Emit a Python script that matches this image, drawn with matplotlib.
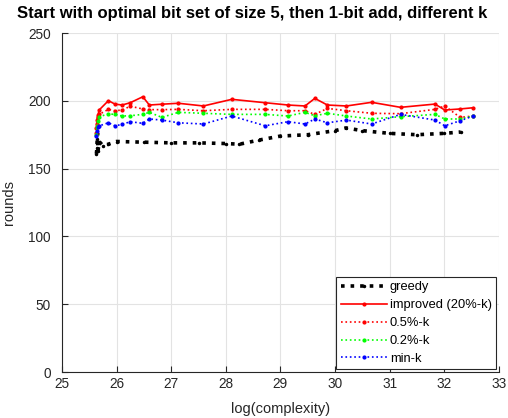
import matplotlib
matplotlib.use("Agg")
import matplotlib.pyplot as plt

plt.rcParams['font.family'] = ['Liberation Sans', 'DejaVu Sans']

# shared sample positions of the k-variant runs
x_runs = [25.63, 25.64, 25.66, 25.68, 25.85, 25.97, 26.10, 26.25, 26.48, 26.60,
          26.83, 27.13, 27.59, 28.11, 28.72, 29.14, 29.45, 29.63, 29.86, 30.21,
          30.67, 31.20, 31.83, 32.01, 32.29, 32.53]

improved = [180, 186, 189.5, 193.2, 200.1, 197.6, 196.9, 198.6, 203, 196.9,
            197.5, 198.2, 196.2, 201.1, 198.6, 196.9, 196.2, 201.8, 196.9, 196.2,
            198.9, 195.2, 197.6, 193.2, 194, 194.9]
k_05 = [176, 183, 188, 190, 193.7, 192.7, 193.2, 196, 194, 193.5,
        193.5, 193.7, 192.7, 193.7, 193.7, 192.7, 192.7, 190, 194.4, 192.7,
        190.8, 190.5, 193.7, 196.2, 187.8, 188.8]
k_02 = [175, 181, 185, 188.3, 190.3, 190, 188.8, 189, 190, 191.5,
        187.8, 191.5, 190.8, 190, 190, 188.8, 191.5, 189, 190.8, 188.8,
        186.6, 188.3, 190, 186.6, 186.6, 188.8]
k_min = [174, 178, 180.9, 181.5, 183.8, 181.6, 182.6, 184.6, 183.4, 186.6,
         185.8, 183.8, 182.9, 188.8, 181.6, 184.6, 182.9, 186.6, 183.8, 185.8,
         182.9, 190, 185.8, 181.6, 185.3, 188.8]

# greedy baseline
x_greedy = [25.63, 25.64, 25.645, 25.65, 25.66, 25.68, 25.75, 25.85, 26.0, 26.5,
            27.0, 27.5, 28.0, 28.25, 28.6, 29.0, 29.5, 30.0, 30.2, 30.5,
            31.0, 31.5, 32.0, 32.3]
greedy = [161, 165, 172, 176, 163, 170, 167, 168, 170, 169.5,
          169, 169, 168.5, 168, 171, 174, 175, 178, 180, 178,
          176, 175, 176, 177]

xticks = [25, 26, 27, 28, 29, 30, 31, 32, 33]
yticks = [0, 50, 100, 150, 200, 250]

fig = plt.figure(figsize=(5.08, 4.18), dpi=100)
ax = fig.add_axes([0.122, 0.110, 0.860, 0.811])

ax.plot(x_greedy, greedy, ':', color='black', lw=2.6, marker='.', ms=3,
        label='greedy')
ax.plot(x_runs, improved, '-', color='#ff0000', lw=1.2, marker='.', ms=4,
        label='improved (20%-k)')
ax.plot(x_runs, k_05, ':', color='#ff0000', lw=1.2, marker='.', ms=4,
        label='0.5%-k')
ax.plot(x_runs, k_02, ':', color='#00ff00', lw=1.2, marker='.', ms=4,
        label='0.2%-k')
ax.plot(x_runs, k_min, ':', color='#0000ff', lw=1.2, marker='.', ms=4,
        label='min-k')

ax.set_xlim(25, 33)
ax.set_ylim(0, 250)
ax.set_xticks(xticks)
ax.set_yticks(yticks)
ax.grid(True, color='#e3e3e3', lw=0.8)
ax.set_axisbelow(True)
for side in ('top', 'right'):
    ax.spines[side].set_visible(False)
for side in ('left', 'bottom'):
    ax.spines[side].set_color('#262626')
    ax.spines[side].set_linewidth(0.8)
ax.tick_params(direction='in', length=4, colors='#262626', labelsize=9.8,
               labelcolor='#262626')
ax.tick_params(axis='y', pad=8)

ax.set_title('Start with optimal bit set of size 5, then 1-bit add, different k',
             fontsize=12, fontweight='bold', loc='left', x=-0.103, pad=11)
ax.set_xlabel('log(complexity)', fontsize=10.5, color='#262626', labelpad=8)
ax.set_ylabel('rounds', fontsize=10.5, color='#262626', labelpad=9)

leg = ax.legend(loc='lower right', fontsize=9.3, frameon=True, fancybox=False,
                edgecolor='#262626', framealpha=1, borderpad=0.35,
                labelspacing=0.45, handlelength=3.6, handletextpad=0.2,
                borderaxespad=0.2)
leg.get_frame().set_linewidth(0.8)

fig.savefig('out.png', dpi=100)
